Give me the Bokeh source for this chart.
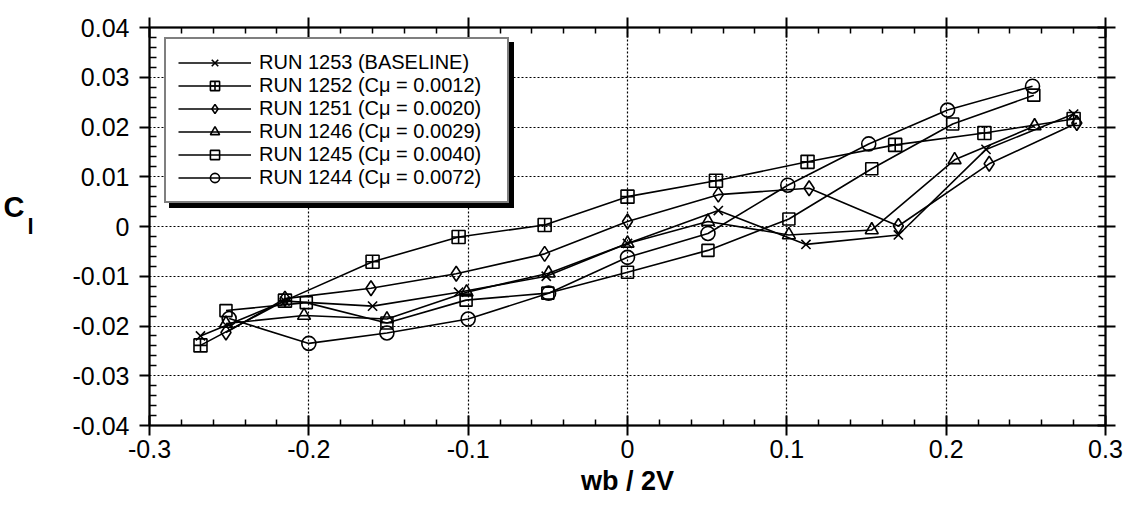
from bokeh.plotting import figure
from bokeh.models import (Range1d, FixedTicker, LinearAxis, Legend, LegendItem,
                          CustomJSTickFormatter, ColumnDataSource)
from bokeh.embed import file_html
from bokeh.resources import INLINE

# ---- data ----
run1253_x = [-0.268, -0.215, -0.160, -0.106, -0.051, 0.000, 0.057, 0.112, 0.170, 0.225, 0.280]
run1253_y = [-0.0220, -0.0150, -0.0160, -0.0132, -0.0100, -0.0034, 0.0032, -0.0036, -0.0017, 0.0155, 0.0226]

run1252_x = [-0.268, -0.215, -0.160, -0.106, -0.052, 0.000, 0.0555, 0.113, 0.168, 0.224, 0.280]
run1252_y = [-0.0239, -0.0149, -0.0071, -0.0021, 0.0003, 0.0060, 0.0092, 0.0130, 0.0164, 0.0188, 0.0216]

run1251_x = [-0.252, -0.215, -0.161, -0.1075, -0.052, 0.000, 0.057, 0.114, 0.170, 0.227, 0.282]
run1251_y = [-0.0213, -0.0145, -0.0124, -0.0095, -0.0055, 0.0010, 0.0064, 0.0077, 0.0001, 0.0126, 0.0208]

run1246_x = [-0.252, -0.203, -0.151, -0.101, -0.0495, 0.000, 0.0505, 0.1013, 0.1533, 0.2053, 0.2555]
run1246_y = [-0.0195, -0.0179, -0.0186, -0.0132, -0.0094, -0.0034, 0.0010, -0.0017, -0.0007, 0.0134, 0.0202]

run1245_x = [-0.252, -0.2016, -0.151, -0.1013, -0.050, 0.000, 0.0505, 0.1013, 0.1533, 0.2041, 0.255]
run1245_y = [-0.0169, -0.0153, -0.0194, -0.0148, -0.0134, -0.0092, -0.0048, 0.0015, 0.0116, 0.0206, 0.0264]

run1244_x = [-0.250, -0.200, -0.151, -0.100, -0.0495, 0.000, 0.0505, 0.1006, 0.1514, 0.2009, 0.2542]
run1244_y = [-0.0185, -0.0235, -0.0214, -0.0186, -0.0134, -0.0062, -0.0014, 0.0083, 0.0166, 0.0234, 0.0282]

labels = ["RUN 1253 (BASELINE)", "RUN 1252 (C\u03bc = 0.0012)", "RUN 1251 (C\u03bc = 0.0020)",
          "RUN 1246 (C\u03bc = 0.0029)", "RUN 1245 (C\u03bc = 0.0040)", "RUN 1244 (C\u03bc = 0.0072)"]
markers = ["x", "square_cross", "diamond", "triangle", "square", "circle"]
sizes = [13, 13, 15, 13, 12, 14]
xs = [run1253_x, run1252_x, run1251_x, run1246_x, run1245_x, run1244_x]
ys = [run1253_y, run1252_y, run1251_y, run1246_y, run1245_y, run1244_y]

x_major = [-0.3, -0.2, -0.1, 0.0, 0.1, 0.2, 0.3]
y_major = [-0.04, -0.03, -0.02, -0.01, 0.0, 0.01, 0.02, 0.03, 0.04]

x_label = "wb / 2V"
y_label_main = "C"
y_label_sub = "l"

FONT = "Liberation Sans"

def minors(major, n=5):
    out = []
    for a, b in zip(major[:-1], major[1:]):
        step = (b - a) / n
        out += [round(a + step * k, 6) for k in range(1, n)]
    return out

p = figure(width=1133, height=506, output_backend="svg", toolbar_location=None,
           x_range=Range1d(-0.3, 0.3), y_range=Range1d(-0.04, 0.04),
           min_border_left=148, min_border_right=28, min_border_top=27, min_border_bottom=81)
p.outline_line_color = "black"
p.outline_line_width = 1.5
p.background_fill_color = "white"
p.border_fill_color = "white"

def xt():
    return FixedTicker(ticks=x_major, minor_ticks=minors(x_major))

def yt():
    return FixedTicker(ticks=y_major, minor_ticks=minors(y_major))

fmt = CustomJSTickFormatter(code="""
if (Math.abs(tick) < 1e-9) { return "0"; }
return parseFloat(tick.toFixed(3)).toString();
""")
empty = CustomJSTickFormatter(code='return "";')

def style_axis(ax, ticker, tin, tout, mtin, labels_on, standoff):
    ax.ticker = ticker
    ax.major_tick_in = tin
    ax.major_tick_out = tout
    ax.minor_tick_in = mtin
    ax.minor_tick_out = 0
    ax.axis_line_color = "black"
    ax.axis_line_width = 2
    ax.major_tick_line_color = "black"
    ax.major_tick_line_width = 2
    ax.minor_tick_line_color = "black"
    ax.minor_tick_line_width = 1.5
    ax.major_label_text_color = "black"
    ax.major_label_text_font = FONT
    if labels_on:
        ax.formatter = fmt
        ax.major_label_text_font_size = "25px"
    else:
        ax.formatter = empty
        ax.major_label_text_font_size = "1px"
    ax.major_label_standoff = standoff

bottom = p.xaxis[0]
left = p.yaxis[0]
top = LinearAxis()
right = LinearAxis()
p.add_layout(top, "above")
p.add_layout(right, "right")
style_axis(bottom, xt(), 10, 10, 6, True, 4)
style_axis(left, yt(), 0, 10, 7, True, 10)
style_axis(top, xt(), 10, 10, 6, False, 0)
style_axis(right, yt(), 8, 10, 7, False, 0)

bottom.axis_label = x_label
bottom.axis_label_text_font = FONT
bottom.axis_label_text_font_size = "27px"
bottom.axis_label_text_font_style = "bold"
bottom.axis_label_text_color = "black"
bottom.axis_label_standoff = 5

# y-axis title "C" with subscript "l", drawn as two label-only axes on the left
def label_axis(text, size, standoff):
    return LinearAxis(ticker=FixedTicker(ticks=[]), axis_line_color=None,
                      major_tick_line_color=None, minor_tick_line_color=None,
                      major_tick_in=0, major_tick_out=0, minor_tick_in=0, minor_tick_out=0,
                      major_label_text_font_size="1px", major_label_standoff=0,
                      axis_label=text, axis_label_orientation="horizontal",
                      axis_label_standoff=standoff, axis_label_text_font=FONT,
                      axis_label_text_font_size=size, axis_label_text_font_style="bold",
                      axis_label_text_color="black")

p.add_layout(label_axis(y_label_sub, "22px", 36), "left")
p.add_layout(label_axis(y_label_main + "\n ", "29px", 0), "left")

p.xgrid.ticker = xt()
p.ygrid.ticker = yt()
for g in (p.xgrid[0], p.ygrid[0]):
    g.grid_line_color = "black"
    g.grid_line_dash = "2 2"
    g.grid_line_width = 1.2

items_main = []
items_shadow = []
for x, y, mk, sz, lab in zip(xs, ys, markers, sizes, labels):
    src = ColumnDataSource(dict(x=x, y=y))
    ln = p.line("x", "y", source=src, line_color="black", line_width=1.6)
    sc = p.scatter("x", "y", source=src, marker=mk, size=sz, line_color="black",
                   fill_color=None, line_width=1.6)
    items_main.append(LegendItem(label=lab, renderers=[ln, sc]))
    items_shadow.append(LegendItem(label=" ", renderers=[ln, sc]))

common = dict(label_text_font=FONT, label_text_font_size="20px", glyph_width=73,
              glyph_height=23, label_height=20, spacing=0, padding=12, label_standoff=8,
              label_width=236, margin=0, border_line_width=2, background_fill_alpha=1.0)

# drop shadow of the legend box (same size, offset, black)
shadow = Legend(items=items_shadow, location=(20, 217), border_line_color="black",
                background_fill_color="black", label_text_color="black", **common)
main = Legend(items=items_main, location=(15, 222), border_line_color="black",
              background_fill_color="white", label_text_color="black", **common)
p.add_layout(shadow, "center")
p.add_layout(main, "center")

open("out.html", "w").write(file_html(p, INLINE))
